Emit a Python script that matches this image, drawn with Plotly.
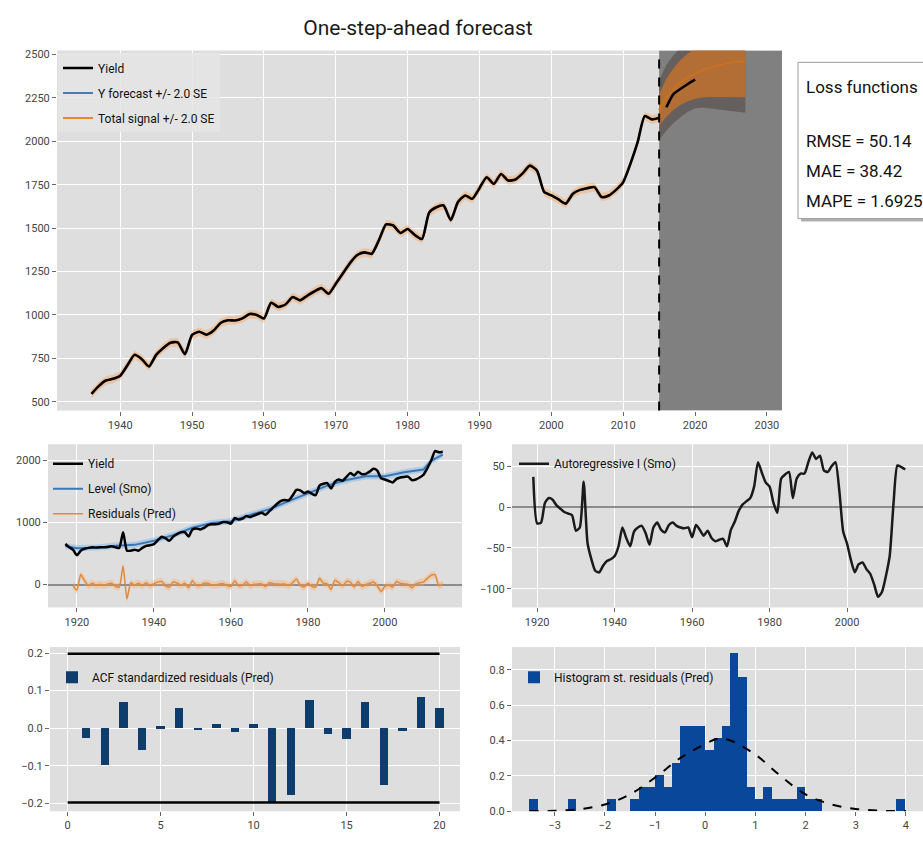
import plotly.graph_objects as go

W, H = 923, 841
FONT = "Roboto, Liberation Sans, sans-serif"

# ---------------- data ----------------
years = list(range(1917, 2016))
yield_obs = [652, 600, 560, 470, 545, 575, 590, 600, 595, 600,          # 1917-1926
             598, 605, 615, 600, 590, 840, 545, 545, 560,               # 1927-1935
             545, 590, 622, 632, 650, 710, 770, 745, 703, 770,          # 1936-1945
             810, 840, 842, 774, 885, 903, 886, 910, 955, 969,          # 1946-1955
             968, 980, 1005, 1000, 979, 1070, 1046, 1060, 1103, 1084,   # 1956-1965
             1110, 1135, 1154, 1122, 1180, 1240, 1300, 1345, 1360, 1352,  # 1966-1975
             1430, 1521, 1515, 1472, 1495, 1460, 1437, 1590, 1620, 1630,  # 1976-1985
             1546, 1650, 1688, 1669, 1730, 1793, 1755, 1812, 1774, 1780,  # 1986-1995
             1815, 1860, 1831, 1708, 1688, 1665, 1641, 1698, 1720, 1730,  # 1996-2005
             1736, 1679, 1688, 1720, 1765, 1870, 1993, 2145, 2126, 2135]  # 2006-2015
top_start = 1936
test_years = [2016, 2017, 2018, 2019, 2020]
test_yield = [2196, 2272, 2302, 2330, 2355]
signal_se2 = 25  # in-sample +/- 2 SE half width of total signal

fc_start = 2015
fc_years = list(range(2015, 2028))
fc_signal = [2180, 2250, 2300, 2340, 2368, 2390, 2408, 2422, 2434, 2444, 2452, 2458, 2463]
fc_sig_lo = [2090, 2140, 2180, 2210, 2230, 2245, 2252, 2255, 2256, 2256, 2255, 2254, 2253]
fc_sig_hi = [2270, 2360, 2420, 2470, 2506, 2535, 2564, 2589, 2612, 2632, 2649, 2662, 2673]
fc_y_lo = [2010, 2060, 2105, 2140, 2170, 2190, 2195, 2192, 2188, 2182, 2176, 2170, 2165]
fc_y_hi = [2350, 2440, 2495, 2540, 2566, 2590, 2621, 2652, 2680, 2706, 2728, 2746, 2761]

loss_title = "Loss functions"
loss_lines = ["RMSE = 50.14", "MAE = 38.42", "MAPE = 1.6925"]

level_years = [1917, 1920, 1925, 1930, 1935, 1940, 1945, 1950, 1955, 1960, 1965,
               1970, 1975, 1980, 1985, 1990, 1995, 2000, 2005, 2010, 2012, 2015]
level_vals = [620, 585, 592, 625, 638, 705, 795, 912, 988, 1018, 1120,
              1212, 1340, 1470, 1590, 1680, 1740, 1740, 1805, 1850, 1990, 2090]
level_se2 = 50

ar_years = list(range(1919, 2016))
ar_vals = [37, -20, -19, 5, 11, 9, 2, -2, -6, -8,              # 1919-1928
           -10, -29, -25, 31, -44, -64, -78, -80, -72, -66,    # 1929-1938
           -64, -60, -48, -25, -38, -48, -30, -25, -23, -32,   # 1939-1948
           -46, -25, -19, -28, -31, -22, -19, -23, -25, -26,   # 1949-1958
           -25, -37, -22, -28, -35, -29, -38, -42, -40, -39,   # 1959-1968
           -48, -28, -18, -5, 3, 7, 11, 25, 55, 42,            # 1969-1978
           30, 25, 5, -7, 35, 40, 43, 11, 35, 41,              # 1979-1988
           41, 55, 67, 59, 63, 45, 43, 50, 55, 20,             # 1989-1998
           -30, -45, -65, -80, -70, -68, -76, -82, -95, -110,  # 1999-2008
           -104, -85, -60, 5, 51, 49, 46]                      # 2009-2015

resid_years = list(range(1919, 2016))
resid_vals = [-20, -90, 160, 60, -20, 20, -10, 5, -15, 10,
              20, -30, -40, 300, -230, 30, -10, 20, -15, 30,
              -20, 15, 40, 50, -20, -40, 40, 25, -10, 20,
              -50, 60, -10, -15, 20, 20, -5, -10, 10, 15,
              -15, -30, 60, -20, -10, 40, -20, 5, 10, 10,
              -30, 30, 15, 10, 5, 10, -15, 30, 90, -10,
              -40, 20, -30, -40, 100, 20, 10, -80, 70, 30,
              -20, 50, 40, -40, 50, -30, 0, 20, 40, -20,
              -110, -30, -10, -40, 50, 20, 10, 0, -50, 10,
              30, 40, 100, 150, 160, -20, 10]
resid_se2 = 60

acf_lags = list(range(1, 21))
acf_vals = [-0.026, -0.097, 0.07, -0.057, 0.005, 0.053, -0.003, 0.01, -0.009, 0.01,
            -0.2, -0.179, 0.074, -0.016, -0.03, 0.07, -0.15, -0.007, 0.083, 0.053]
acf_conf = 0.198
acf_line_lags = [0, 20]

hist_centers = [-3.42, -2.66, -1.87,
                -1.407, -1.242, -1.076, -0.910, -0.745, -0.579, -0.414, -0.248,
                -0.082, 0.083, 0.249, 0.414, 0.580, 0.746, 0.911, 1.077, 1.242,
                1.408, 1.574, 1.739, 1.905, 2.070, 2.236,
                3.89]
hist_density = [0.069, 0.069, 0.069,
                0.069, 0.137, 0.137, 0.206, 0.137, 0.275, 0.481, 0.481,
                0.481, 0.344, 0.412, 0.481, 0.893, 0.756, 0.137, 0.069, 0.137,
                0.069, 0.069, 0.069, 0.137, 0.069, 0.069,
                0.069]
hist_width = 0.1656
pdf_x = [-3.5, -3.0, -2.5, -2.0, -1.5, -1.0, -0.5, 0.0, 0.25, 0.5, 1.0, 1.5, 2.0, 2.5, 3.0, 3.5, 4.0]
pdf_y = [0.001, 0.003, 0.012, 0.038, 0.095, 0.19, 0.30, 0.38, 0.41, 0.40, 0.32, 0.20, 0.095, 0.04, 0.013, 0.003, 0.001]

# axis ranges
top_xr = [1931.2, 2032.1]
top_yr = [449, 2523]

# ---------------- helpers ----------------
def px(p):
    return p / W


def py(p):
    return 1 - p / H


def axis(**kw):
    d = dict(showgrid=True, gridcolor="white", gridwidth=1.3, zeroline=False, showline=False,
             ticks="outside", ticklen=4, tickwidth=1, tickcolor="#666666",
             tickfont=dict(family=FONT, size=11, color="#444444"))
    d.update(kw)
    return d


def leg(x, y, **kw):
    d = dict(x=px(x), y=py(y), xanchor="left", yanchor="top", bgcolor="rgba(0,0,0,0)",
             font=dict(family=FONT, size=12, color="#111111"), tracegroupgap=6,
             itemwidth=30, borderwidth=0)
    d.update(kw)
    return d

SMOOTH = dict(shape="spline", smoothing=0.6)

fig = go.Figure()

# ---------------- top panel ----------------
i0 = years.index(top_start)
ty = years[i0:]
tv = yield_obs[i0:]

# forecast period shading (drawn as the first trace so it sits above the grid)
fig.add_trace(go.Scatter(x=[fc_start, top_xr[1], top_xr[1], fc_start],
                         y=[top_yr[0], top_yr[0], top_yr[1], top_yr[1]], fill="toself",
                         fillcolor="#808080", line=dict(width=0), mode="lines", hoverinfo="skip",
                         showlegend=False, xaxis="x", yaxis="y"))
fig.add_trace(go.Scatter(x=fc_years, y=fc_signal, mode="lines", line=dict(color="#4a7bb0", width=2),
                         name="Y forecast +/- 2.0 SE", legend="legend", legendrank=2,
                         legendgroup="a2", xaxis="x", yaxis="y"))
fig.add_trace(go.Scatter(x=ty + [None] + fc_years, y=tv + [None] + fc_signal, mode="lines",
                         line=dict(color="#e8892f", width=2, **SMOOTH), name="Total signal +/- 2.0 SE",
                         legend="legend", legendrank=3, legendgroup="a3", xaxis="x", yaxis="y"))
fig.add_trace(go.Scatter(x=fc_years + fc_years[::-1], y=fc_y_hi + fc_y_lo[::-1], fill="toself",
                         fillcolor="rgba(60,48,40,0.40)", line=dict(width=0), mode="lines",
                         hoverinfo="skip", showlegend=False, xaxis="x", yaxis="y"))
fig.add_trace(go.Scatter(x=fc_years + fc_years[::-1], y=fc_sig_hi + fc_sig_lo[::-1], fill="toself",
                         fillcolor="rgba(230,120,25,0.6)", line=dict(width=0), mode="lines",
                         hoverinfo="skip", showlegend=False, xaxis="x", yaxis="y"))
fig.add_trace(go.Scatter(x=ty + ty[::-1],
                         y=[v + signal_se2 for v in tv] + [v - signal_se2 for v in tv[::-1]],
                         fill="toself", fillcolor="rgba(255,150,60,0.35)", line=dict(width=0),
                         mode="lines", hoverinfo="skip", showlegend=False, xaxis="x", yaxis="y"))
fig.add_trace(go.Scatter(x=ty, y=tv, mode="lines", line=dict(color="black", width=2.6, **SMOOTH),
                         name="Yield", legend="legend", legendrank=1, legendgroup="a1",
                         xaxis="x", yaxis="y"))
fig.add_trace(go.Scatter(x=test_years, y=test_yield, mode="lines",
                         line=dict(color="black", width=2.5, **SMOOTH),
                         showlegend=False, xaxis="x", yaxis="y"))

# ---------------- middle left ----------------
fig.add_trace(go.Scatter(x=level_years + level_years[::-1],
                         y=[v + level_se2 for v in level_vals] + [v - level_se2 for v in level_vals[::-1]],
                         fill="toself", fillcolor="rgba(120,180,235,0.45)", line=dict(width=0),
                         mode="lines", hoverinfo="skip", showlegend=False, xaxis="x2", yaxis="y2"))
fig.add_trace(go.Scatter(x=resid_years + resid_years[::-1],
                         y=[v + resid_se2 for v in resid_vals] + [v - resid_se2 for v in resid_vals[::-1]],
                         fill="toself", fillcolor="rgba(255,170,100,0.35)", line=dict(width=0),
                         mode="lines", hoverinfo="skip", showlegend=False, xaxis="x2", yaxis="y2"))
fig.add_trace(go.Scatter(x=level_years, y=level_vals, mode="lines", line=dict(color="#3a78b5", width=2),
                         name="Level (Smo)", legend="legend2", legendrank=2, legendgroup="b2",
                         xaxis="x2", yaxis="y2"))
fig.add_trace(go.Scatter(x=resid_years, y=resid_vals, mode="lines",
                         line=dict(color="#e08a3c", width=1.5, **SMOOTH),
                         name="Residuals (Pred)", legend="legend2", legendrank=3, legendgroup="b3",
                         xaxis="x2", yaxis="y2"))
fig.add_trace(go.Scatter(x=years, y=yield_obs, mode="lines", line=dict(color="black", width=2.5, **SMOOTH),
                         name="Yield", legend="legend2", legendrank=1, legendgroup="b1",
                         xaxis="x2", yaxis="y2"))

# ---------------- middle right ----------------
fig.add_trace(go.Scatter(x=ar_years, y=ar_vals, mode="lines", line=dict(color="#1a1a1a", width=2.5, **SMOOTH),
                         name="Autoregressive I (Smo)", legend="legend3", xaxis="x3", yaxis="y3"))

# ---------------- bottom left ----------------
fig.add_trace(go.Bar(x=acf_lags, y=acf_vals, width=0.45, marker=dict(color="#0e3c6c", line=dict(width=0)),
                     name="ACF standardized residuals (Pred)", legend="legend4", xaxis="x4", yaxis="y4"))
for c in (acf_conf, -acf_conf):
    fig.add_trace(go.Scatter(x=acf_line_lags, y=[c, c], mode="lines", line=dict(color="black", width=2.5),
                             showlegend=False, xaxis="x4", yaxis="y4"))

# ---------------- bottom right ----------------
fig.add_trace(go.Bar(x=hist_centers, y=hist_density, width=hist_width,
                     marker=dict(color="#08479a", line=dict(width=0)),
                     name="Histogram st. residuals (Pred)", legend="legend5", xaxis="x5", yaxis="y5"))
fig.add_trace(go.Scatter(x=pdf_x, y=pdf_y, mode="lines", line=dict(color="black", width=2, dash="dash",
                         shape="spline"), showlegend=False, xaxis="x5", yaxis="y5"))

# ---------------- layout ----------------
top_x = [57, 782]
top_y = [49, 413]
mid_y = [447, 612]
bot_y = [652, 818]

fig.update_layout(
    width=W, height=H, margin=dict(l=0, r=0, t=0, b=0),
    paper_bgcolor="white", plot_bgcolor="#DEDEDE", bargap=0,
    font=dict(family=FONT, size=12, color="#333333"),
    title=dict(text="One-step-ahead forecast", x=px(418), xanchor="center", y=py(28), yanchor="middle",
               font=dict(family=FONT, size=21, color="#1a1a1a")),
    xaxis=axis(domain=[px(top_x[0]), px(top_x[1])], range=top_xr, tickvals=list(range(1940, 2031, 10)),
               anchor="y"),
    yaxis=axis(domain=[py(top_y[1]), py(top_y[0])], range=top_yr, tickvals=list(range(500, 2501, 250)),
               anchor="x"),
    xaxis2=axis(domain=[px(48), px(462)], range=[1912.5, 2020], tickvals=[1920, 1940, 1960, 1980, 2000],
                anchor="y2"),
    yaxis2=axis(domain=[py(mid_y[1]), py(mid_y[0])], range=[-368, 2256], tickvals=[0, 1000, 2000],
                zeroline=True, zerolinecolor="#8c8c8c", zerolinewidth=2, anchor="x2"),
    xaxis3=axis(domain=[px(512), 1.0], range=[1913.5, 2019.6], tickvals=[1920, 1940, 1960, 1980, 2000],
                anchor="y3"),
    yaxis3=axis(domain=[py(mid_y[1]), py(mid_y[0])], range=[-123, 77], tickvals=[-100, -50, 0, 50],
                zeroline=True, zerolinecolor="#8c8c8c", zerolinewidth=2, anchor="x3"),
    xaxis4=axis(domain=[px(50), px(460)], range=[-0.95, 21.1], tickvals=[0, 5, 10, 15, 20], anchor="y4"),
    yaxis4=axis(domain=[py(bot_y[1]), py(bot_y[0])], range=[-0.221, 0.216],
                tickvals=[-0.2, -0.1, 0.0, 0.1, 0.2], tickformat=".1f", anchor="x4"),
    xaxis5=axis(domain=[px(512), 1.0], range=[-3.85, 4.34], tickvals=[-3, -2, -1, 0, 1, 2, 3, 4], anchor="y5"),
    yaxis5=axis(domain=[py(bot_y[1]), py(bot_y[0])], range=[0, 0.928],
                tickvals=[0.0, 0.2, 0.4, 0.6, 0.8], tickformat=".1f", anchor="x5"),
    legend=leg(58, 52, bgcolor="rgba(229,229,229,0.85)"),
    legend2=leg(48, 452),
    legend3=leg(514, 452),
    legend4=leg(52, 668),
    legend5=leg(514, 668),
)

# forecast start marker
fig.add_shape(type="line", xref="x", yref="paper", x0=fc_start, x1=fc_start, y0=py(top_y[1]), y1=py(top_y[0]),
              line=dict(color="black", width=2, dash="dash"), layer="above")

# loss function box
fig.add_shape(type="rect", xref="paper", yref="paper", x0=px(801), x1=px(940), y0=py(222), y1=py(64),
              fillcolor="#b0b0b0", line=dict(width=0), layer="above")
fig.add_shape(type="rect", xref="paper", yref="paper", x0=px(798), x1=px(937), y0=py(219), y1=py(61),
              fillcolor="white", line=dict(color="#9a9a9a", width=1), layer="above")
fig.add_annotation(xref="paper", yref="paper", x=px(804), y=py(86), text=loss_title, showarrow=False,
                   xanchor="left", yanchor="middle", font=dict(family=FONT, size=17, color="#111111"))
for k, t in enumerate(loss_lines):
    fig.add_annotation(xref="paper", yref="paper", x=px(804), y=py(141 + 30 * k), text=t, showarrow=False,
                       xanchor="left", yanchor="middle", font=dict(family=FONT, size=17, color="#111111"))

fig.write_html("out.html")
